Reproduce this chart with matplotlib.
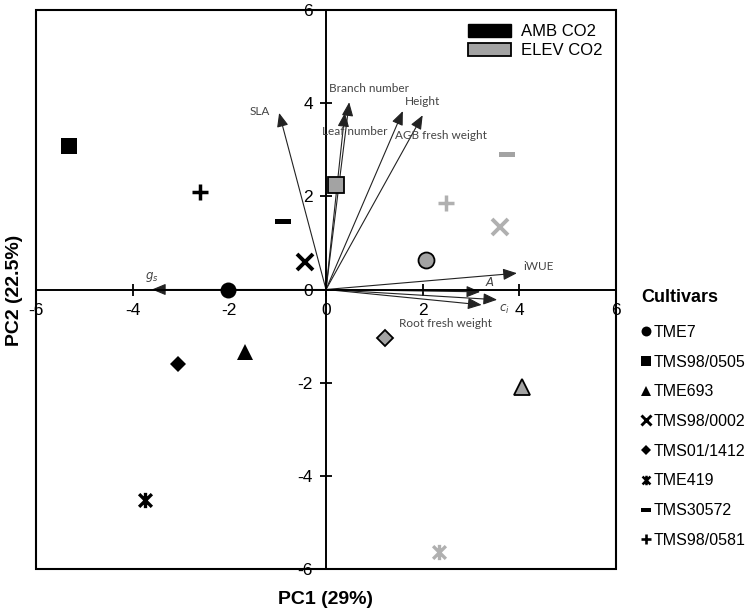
import numpy as np
import matplotlib.pyplot as plt
from matplotlib.path import Path
from matplotlib.lines import Line2D
from matplotlib.patches import Patch, Rectangle

plt.rcParams['font.family'] = ['Liberation Sans', 'DejaVu Sans']
plt.rcParams['axes.unicode_minus'] = False

# PCA scores per cultivar
cultivars = ['TME7', 'TMS98/0505', 'TME693', 'TMS98/0002',
             'TMS01/1412', 'TME419', 'TMS30572', 'TMS98/0581']
amb_x = [-2.03, -5.32, -1.68, -0.43, -3.06, -3.75, -0.89, -2.61]
amb_y = [-0.02, 3.08, -1.34, 0.59, -1.60, -4.52, 1.47, 2.09]
elev_x = [2.07, 0.21, 4.06, 3.60, 1.22, 2.34, 3.75, 2.48]
elev_y = [0.63, 2.24, -2.09, 1.34, -1.04, -5.63, 2.91, 1.86]

# loadings (arrow tips)
variables = ['SLA', 'Branch number', 'Leaf number', 'Height', 'AGB fresh weight',
             'iWUE', '$\\it{A}$', '$\\it{c_i}$', 'Root fresh weight', '$\\it{g_s}$']
load_x = [-0.97, 0.48, 0.39, 1.59, 2.00, 3.95, 3.19, 3.54, 3.22, -3.60]
load_y = [3.79, 4.02, 3.79, 3.83, 3.74, 0.35, -0.05, -0.22, -0.33, 0.0]

# label offsets in pixels and alignment
lab_off = [(-9, 1, 'right'), (20, 14, 'center'), (10, -19, 'center'),
           (20, 10, 'center'), (18, -20, 'center'), (22, 7, 'center'),
           (10, 10, 'center'), (7, -10, 'center'), (-36, -19, 'center'),
           (0, 13, 'center')]

star = Path([(-1, -1), (1, 1), (-1, 1), (1, -1), (0, -1.2), (0, 1.2)],
            [Path.MOVETO, Path.LINETO, Path.MOVETO, Path.LINETO, Path.MOVETO, Path.LINETO])
dash = Path([(-1, -0.3), (1, -0.3), (1, 0.3), (-1, 0.3), (-1, -0.3)],
            [Path.MOVETO, Path.LINETO, Path.LINETO, Path.LINETO, Path.CLOSEPOLY])

# marker, size, filled-with-edge?, line width
styles = [('o', 11.5, True, 0), ('s', 11.5, True, 0), ('^', 11, True, 0),
          ('x', 11.5, False, 2.8), ('D', 8, True, 0), (star, 11, False, 2.4),
          (dash, 12, True, 0), ('+', 11, False, 2.5)]

gray = '#a3a3a3'

fig = plt.figure(figsize=(7.53, 6.10), dpi=100)
ax = fig.add_axes([36 / 753, 41 / 610, 580 / 753, 559 / 610])

# loading arrows
for name, lx, ly, (dx, dy, ha) in zip(variables, load_x, load_y, lab_off):
    ax.annotate('', xy=(lx, ly), xytext=(0, 0),
                arrowprops=dict(arrowstyle='-|>,head_length=0.6,head_width=0.25',
                                color='#222222', lw=0.8, mutation_scale=14,
                                shrinkA=0, shrinkB=0), zorder=2)
    ax.annotate(name, xy=(lx, ly), xytext=(dx, dy), textcoords='offset pixels',
                ha=ha, va='center', fontsize=8.5, color='#444444',
                family=['Lato', 'DejaVu Sans'])

for i, name in enumerate(cultivars):
    mk, ms, edged, mew = styles[i]
    if edged:
        ax.plot(amb_x[i], amb_y[i], marker=mk, ms=ms, color='black',
                mec='black', mew=0, ls='none', zorder=3)
        if mk is dash:
            ax.plot(elev_x[i], elev_y[i], marker=mk, ms=ms, color=gray,
                    mew=0, ls='none', zorder=3)
        else:
            ax.plot(elev_x[i], elev_y[i], marker=mk, ms=ms, mfc=gray,
                    mec='black', mew=1.3, ls='none', zorder=3)
    else:
        ax.plot(amb_x[i], amb_y[i], marker=mk, ms=ms, color='black',
                mew=mew, ls='none', zorder=3)
        ax.plot(elev_x[i], elev_y[i], marker=mk, ms=ms, color='#b0b0b0',
                mew=mew, ls='none', zorder=3)

ax.set_xlim(-6, 6)
ax.set_ylim(-6, 6)
ax.set_xticks(np.arange(-6, 7, 2))
ax.set_yticks(np.arange(-6, 7, 2))
ax.spines['left'].set_position(('data', 0))
ax.spines['bottom'].set_position(('data', 0))
ax.spines['top'].set_visible(False)
ax.spines['right'].set_visible(False)
for s in ['left', 'bottom']:
    ax.spines[s].set_linewidth(1.4)
ax.add_patch(Rectangle((0, 0), 1, 1, transform=ax.transAxes, fill=False,
                       lw=1.5, ec='black', clip_on=False, zorder=4))
ax.tick_params(direction='inout', length=9, width=1.3, labelsize=12.5, pad=5)

# CO2 legend
co2 = [Patch(facecolor='black', edgecolor='black', label='AMB CO2'),
       Patch(facecolor=gray, edgecolor='black', lw=1.3, label='ELEV CO2')]
ax.legend(handles=co2, loc='upper left', bbox_to_anchor=(0.745, 0.975),
          frameon=False, fontsize=12, handlelength=2.6, handleheight=0.8,
          handletextpad=0.6, labelspacing=0.25, borderpad=0, borderaxespad=0)

# cultivar legend
handles = []
for i, name in enumerate(cultivars):
    mk, ms, edged, mew = styles[i]
    handles.append(Line2D([], [], marker=mk, ls='none', color='black',
                          ms=ms * 0.62, mew=(mew * 0.75 if not edged else 0),
                          label=name))
fig.legend(handles=handles, loc='upper left', bbox_to_anchor=(640 / 753, 1 - 325 / 610),
           frameon=False, fontsize=11.5, handlelength=0.7, handletextpad=0.15,
           labelspacing=0.92, borderpad=0, borderaxespad=0)
fig.text(641 / 753, 1 - 298 / 610, 'Cultivars', ha='left', va='center',
         fontsize=13, fontweight='bold')

fig.text(326 / 753, 1 - 600 / 610, 'PC1 (29%)', ha='center', va='center',
         fontsize=14, fontweight='bold')
fig.text(15 / 753, 1 - 290 / 610, 'PC2 (22.5%)', ha='center', va='center',
         rotation=90, fontsize=14, fontweight='bold')

fig.savefig('out.png', dpi=100)
